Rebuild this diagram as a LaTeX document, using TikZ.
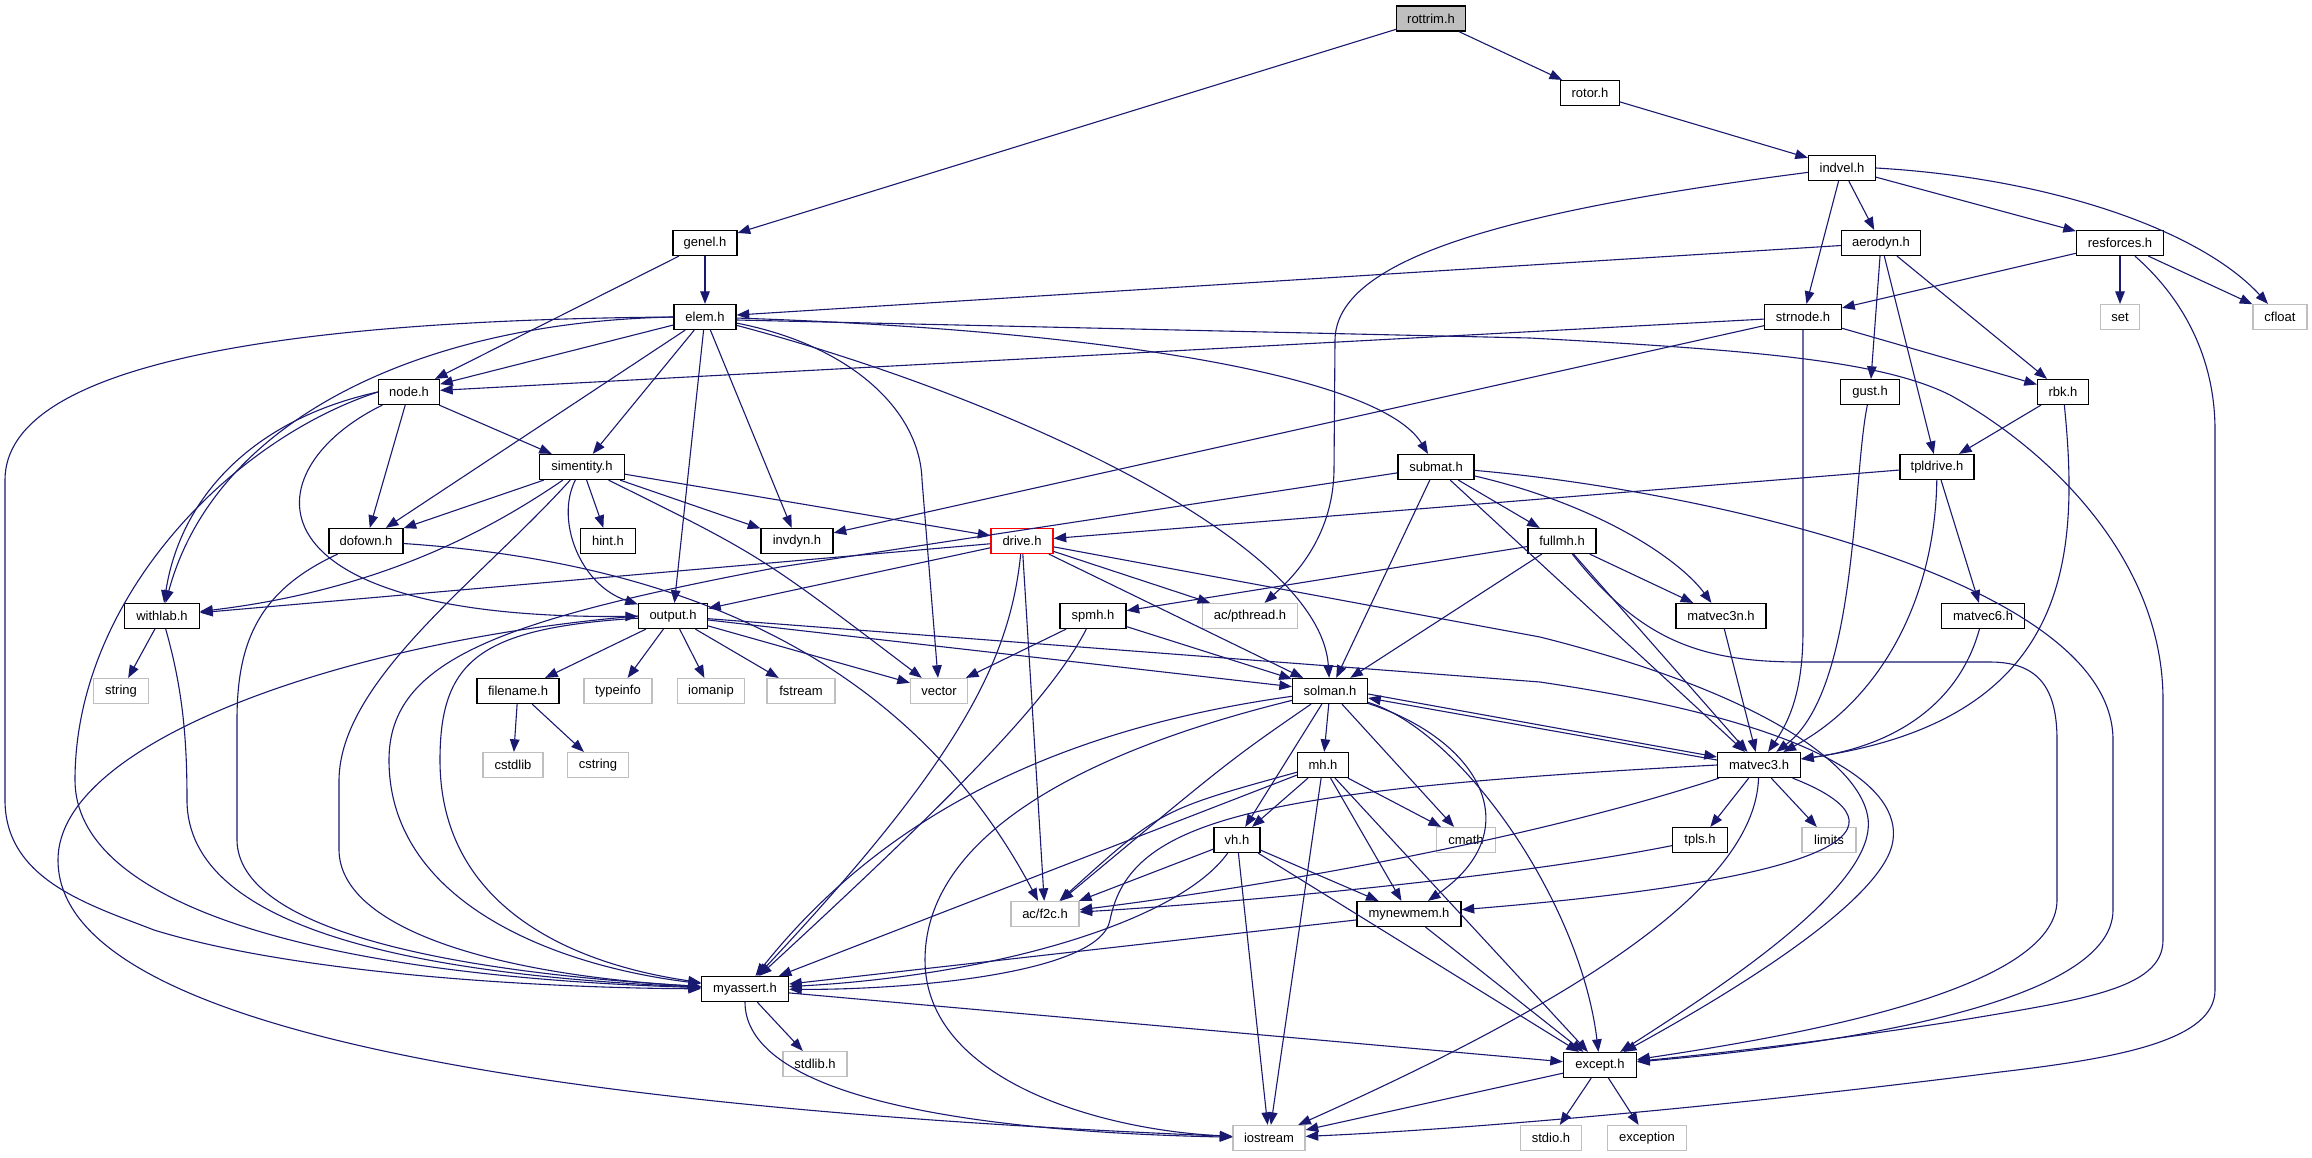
\documentclass[tikz,border=0pt]{standalone}
\usepackage{fontspec}
\setmainfont{Liberation Sans}
\usetikzlibrary{arrows.meta}
\definecolor{edgec}{HTML}{191970}
\definecolor{extc}{HTML}{BFBFBF}
\begin{document}
\begin{tikzpicture}[x=0.5pt,y=-0.5pt,
 hb/.style={draw=black, fill=white, line width=0.6pt, minimum height=12.5pt, inner sep=0pt, font=\fontsize{6.5}{7}\selectfont},
 xb/.style={hb, draw=extc},
 ed/.style={draw=edgec, line width=0.55pt, -{Triangle[length=6.3pt,width=4.8pt]}}]
\useasboundingbox[fill=white] (0,0) rectangle (2312,1157);
% nodes
\node[hb, fill=extc, minimum width=34.5pt] (rottrim) at (1431,18.5) {rottrim.h};
\node[hb, minimum width=29.5pt] (rotor) at (1590,93) {rotor.h};
\node[hb, minimum width=33.5pt] (indvel) at (1842,168) {indvel.h};
\node[hb, minimum width=32pt] (genel) at (705,243) {genel.h};
\node[hb, minimum width=39.5pt] (aerodyn) at (1881,243) {aerodyn.h};
\node[hb, minimum width=43.5pt] (resforces) at (2120,243) {resforces.h};
\node[hb, minimum width=31pt] (elem) at (705,317) {elem.h};
\node[hb, minimum width=38.5pt] (strnode) at (1803,317) {strnode.h};
\node[xb, minimum width=19.5pt] (set) at (2120,317) {set};
\node[xb, minimum width=27pt] (cfloat) at (2280,317) {cfloat};
\node[hb, minimum width=30.5pt] (node) at (409,392) {node.h};
\node[hb, minimum width=29.5pt] (gust) at (1870,392) {gust.h};
\node[hb, minimum width=25.5pt] (rbk) at (2063,392) {rbk.h};
\node[hb, minimum width=42.5pt] (simentity) at (582,467) {simentity.h};
\node[hb, minimum width=38pt] (submat) at (1436,467) {submat.h};
\node[hb, minimum width=37pt] (tpldrive) at (1937,467) {tpldrive.h};
\node[hb, minimum width=37pt] (dofown) at (366,541) {dofown.h};
\node[hb, minimum width=27.5pt] (hint) at (608,541) {hint.h};
\node[hb, minimum width=36pt] (invdyn) at (797,541) {invdyn.h};
\node[hb, draw=red, minimum width=31pt] (drive) at (1022,541) {drive.h};
\node[hb, minimum width=34pt] (fullmh) at (1562,541) {fullmh.h};
\node[hb, minimum width=37.5pt] (withlab) at (162,616) {withlab.h};
\node[hb, minimum width=34.5pt] (output) at (673,616) {output.h};
\node[hb, minimum width=33pt] (spmh) at (1093,616) {spmh.h};
\node[xb, minimum width=47.5pt] (pthread) at (1250,616) {ac/pthread.h};
\node[hb, minimum width=45pt] (matvec3n) at (1721,616) {matvec3n.h};
\node[hb, minimum width=41.5pt] (matvec6) at (1983,616) {matvec6.h};
\node[xb, minimum width=27.5pt] (string) at (121,691) {string};
\node[hb, minimum width=41pt] (filename) at (518,691) {filename.h};
\node[xb, minimum width=34pt] (typeinfo) at (618,691) {typeinfo};
\node[xb, minimum width=33.5pt] (iomanip) at (711,691) {iomanip};
\node[xb, minimum width=34pt] (fstream) at (801,691) {fstream};
\node[xb, minimum width=28.5pt] (vector) at (939,691) {vector};
\node[hb, minimum width=37.5pt] (solman) at (1330,691) {solman.h};
\node[xb, minimum width=30pt] (cstdlib) at (513,765) {cstdlib};
\node[xb, minimum width=30.5pt] (cstring) at (598,765) {cstring};
\node[hb, minimum width=25.5pt] (mh) at (1323,765) {mh.h};
\node[hb, minimum width=41.5pt] (matvec3) at (1759,765) {matvec3.h};
\node[hb, minimum width=23pt] (vh) at (1237,840) {vh.h};
\node[xb, minimum width=29.5pt] (cmath) at (1466,840) {cmath};
\node[hb, minimum width=27.5pt] (tpls) at (1700,840) {tpls.h};
\node[xb, minimum width=27pt] (limits) at (1829,840) {limits};
\node[xb, minimum width=34pt] (f2c) at (1045,914) {ac/f2c.h};
\node[hb, minimum width=52pt] (mynewmem) at (1409,914) {mynewmem.h};
\node[hb, minimum width=43.5pt] (myassert) at (745,989) {myassert.h};
\node[xb, minimum width=32pt] (stdlib) at (815,1064) {stdlib.h};
\node[hb, minimum width=36.5pt] (except) at (1600,1065) {except.h};
\node[xb, minimum width=36pt] (iostream) at (1269,1138) {iostream};
\node[xb, minimum width=30.5pt] (stdio) at (1551,1138) {stdio.h};
\node[xb, minimum width=39.5pt] (exception) at (1647,1138) {exception};
% edges
\draw[ed] (rottrim) -- (genel);
\draw[ed] (rottrim) -- (rotor);
\draw[ed] (rotor) -- (indvel);
\draw[ed] (indvel) .. controls (1500,212) and (1336,260) .. (1335,340) -- (1334,470) .. controls (1333,540) and (1290,580) .. (pthread);
\draw[ed] (indvel) -- (strnode);
\draw[ed] (indvel) -- (aerodyn);
\draw[ed] (indvel) -- (resforces);
\draw[ed] (indvel.east) .. controls (2050,178) and (2200,230) .. (cfloat);
\draw[ed] (aerodyn) -- (elem);
\draw[ed] (aerodyn) -- (gust);
\draw[ed] (aerodyn) -- (tpldrive);
\draw[ed] (aerodyn) -- (rbk);
\draw[ed] (resforces) -- (strnode);
\draw[ed] (resforces) -- (set);
\draw[ed] (resforces) -- (cfloat);
\draw[ed] (resforces) .. controls (2185,300) and (2215,360) .. (2215,430) -- (2215,990) .. controls (2215,1040) and (2120,1058) .. (2000,1072) .. controls (1700,1110) and (1450,1130) .. (iostream);
\draw[ed] (genel) -- (node);
\draw[ed] (genel) -- (elem);
\draw[ed] (elem) -- (node);
\draw[ed] (elem.west) .. controls (300,320) and (5,360) .. (5,480) -- (5,800) .. controls (5,880) and (90,905) .. (154,930) .. controls (300,975) and (550,988) .. (myassert);
\draw[ed] (elem.west) .. controls (420,322) and (215,420) .. (withlab);
\draw[ed] (elem) -- (dofown);
\draw[ed] (elem) -- (simentity);
\draw[ed] (elem) -- (output);
\draw[ed] (elem) -- (invdyn);
\draw[ed] (elem) .. controls (850,345) and (920,410) .. (922,480) -- (vector);
\draw[ed] (elem) .. controls (1000,395) and (1320,540) .. (solman);
\draw[ed] (elem) .. controls (1100,330) and (1380,375) .. (submat);
\draw[ed] ([yshift=-1.5pt]elem.east) -- (1530,338) .. controls (1750,350) and (1880,360) .. (1950,395) .. controls (2050,450) and (2163,560) .. (2163,700) -- (2163,940) .. controls (2163,990) and (2080,1000) .. (1950,1022) .. controls (1800,1045) and (1700,1055) .. (except);
\draw[ed] (strnode) -- (node);
\draw[ed] (strnode) -- (invdyn);
\draw[ed] (strnode) -- (rbk);
\draw[ed] (strnode) -- (1803,630) .. controls (1803,690) and (1790,720) .. (matvec3);
\draw[ed] (gust) .. controls (1852,480) and (1858,690) .. (matvec3);
\draw[ed] (rbk) -- (tpldrive);
\draw[ed] (rbk) .. controls (2080,560) and (2070,720) .. (matvec3);
\draw[ed] (tpldrive) -- (drive);
\draw[ed] (tpldrive) .. controls (1935,600) and (1880,700) .. (matvec3);
\draw[ed] (tpldrive) -- (matvec6);
\draw[ed] (matvec6) .. controls (1960,700) and (1900,745) .. (matvec3);
\draw[ed] (matvec3n) -- (matvec3);
\draw[ed] (node.west) .. controls (250,420) and (180,500) .. (withlab);
\draw[ed] (node.west) .. controls (230,440) and (75,600) .. (75,780) .. controls (75,900) and (300,975) .. (myassert);
\draw[ed] (node) -- (dofown);
\draw[ed] (node) .. controls (250,470) and (240,620) .. (output);
\draw[ed] (node) -- (simentity);
\draw[ed] (simentity) -- (dofown);
\draw[ed] (simentity) .. controls (490,530) and (380,590) .. (withlab);
\draw[ed] (simentity) .. controls (480,580) and (340,680) .. (339,780) -- (339,850) .. controls (340,930) and (500,975) .. (myassert);
\draw[ed] (simentity) -- (hint);
\draw[ed] (simentity) .. controls (555,520) and (580,585) .. (output);
\draw[ed] (simentity) .. controls (760,555) .. (vector);
\draw[ed] (simentity) -- (invdyn);
\draw[ed] (simentity) -- (drive);
\draw[ed] (dofown) .. controls (260,590) and (237,640) .. (237,720) -- (237,840) .. controls (238,930) and (450,972) .. (myassert);
\draw[ed] (dofown) .. controls (650,560) and (900,640) .. (f2c);
\draw[ed] (withlab) -- (string);
\draw[ed] (withlab) .. controls (183,690) and (187,740) .. (187,800) .. controls (187,930) and (420,975) .. (myassert);
\draw[ed] (output) -- (filename);
\draw[ed] (output) -- (typeinfo);
\draw[ed] (output) -- (iomanip);
\draw[ed] (output) -- (fstream);
\draw[ed] (output) -- (vector);
\draw[ed] (output) -- (solman);
\draw[ed] (output) -- (1540,682) .. controls (1830,725) and (1900,790) .. (1893,840) .. controls (1885,905) and (1700,1010) .. (except);
\draw[ed] (output) .. controls (480,628) and (440,660) .. (440,760) .. controls (440,900) and (560,962) .. (myassert);
\draw[ed] (output.west) .. controls (350,640) and (58,740) .. (58,860) .. controls (58,1040) and (600,1110) .. (iostream);
\draw[ed] (filename) -- (cstdlib);
\draw[ed] (filename) -- (cstring);
\draw[ed] (drive) -- (withlab);
\draw[ed] (drive) -- (output);
\draw[ed] (drive) .. controls (1010,660) and (960,760) .. (myassert);
\draw[ed] (drive) -- (f2c);
\draw[ed] (drive) -- (solman);
\draw[ed] (drive) -- (pthread);
\draw[ed] (drive) -- (1540,637) .. controls (1790,700) and (1875,780) .. (1868,830) .. controls (1860,900) and (1700,1000) .. (except);
\draw[ed] (spmh) -- (vector);
\draw[ed] (spmh) -- (solman);
\draw[ed] (spmh) .. controls (1050,700) and (950,800) .. (myassert);
\draw[ed] (solman) -- (mh);
\draw[ed] (solman) -- (vh);
\draw[ed] (solman) -- (cmath);
\draw[ed] (solman) .. controls (1480,740) and (1530,830) .. (mynewmem);
\draw[ed] (solman) .. controls (1460,730) and (1580,900) .. (except);
\draw[ed] ([yshift=-1.5pt]solman.east) -- ([yshift=4pt]matvec3.west);
\draw[ed] ([yshift=2.5pt]matvec3.west) -- ([yshift=-3.5pt]solman.east);
\draw[ed] (solman) .. controls (1230,760) .. (f2c);
\draw[ed] (solman) .. controls (1050,730) and (880,820) .. (myassert);
\draw[ed] (solman) .. controls (1050,760) and (925,850) .. (925,960) .. controls (925,1080) and (1100,1130) .. (iostream);
\draw[ed] (mh) -- (vh);
\draw[ed] (mh) .. controls (1160,810) .. (f2c);
\draw[ed] (mh) -- (myassert);
\draw[ed] (mh) -- (cmath);
\draw[ed] (mh) -- (mynewmem);
\draw[ed] (mh) -- (except);
\draw[ed] (mh) -- (iostream);
\draw[ed] (vh) -- (f2c);
\draw[ed] (vh) .. controls (1180,920) and (1000,975) .. (myassert);
\draw[ed] (vh) -- (mynewmem);
\draw[ed] (vh) -- (iostream);
\draw[ed] (vh) -- (except);
\draw[ed] (mynewmem) -- (myassert);
\draw[ed] (mynewmem) -- (except);
\draw[ed] (matvec3) -- (tpls);
\draw[ed] (matvec3) -- (limits);
\draw[ed] (matvec3) .. controls (1500,850) and (1200,895) .. (f2c);
\draw[ed] (matvec3) .. controls (1755,880) and (1600,990) .. (iostream);
\draw[ed] (matvec3) .. controls (1900,820) and (1885,875) .. (mynewmem);
\draw[ed] (matvec3.west) .. controls (1250,790) and (1130,820) .. (1110,920) .. controls (1100,975) and (900,990) .. (myassert);
\draw[ed] (tpls) .. controls (1500,880) and (1200,905) .. (f2c);
\draw[ed] (fullmh) -- (spmh);
\draw[ed] (fullmh) -- (solman);
\draw[ed] (fullmh) -- (matvec3n);
\draw[ed] (fullmh) -- (matvec3);
\draw[ed] (fullmh) .. controls (1640,640) and (1700,662) .. (1800,662) -- (1990,662) .. controls (2040,662) and (2057,690) .. (2057,740) -- (2057,900) .. controls (2057,990) and (1800,1035) .. (except);
\draw[ed] (submat) -- (fullmh);
\draw[ed] (submat) .. controls (1600,505) and (1680,560) .. (matvec3n);
\draw[ed] (submat) -- (matvec3);
\draw[ed] (submat) -- (solman);
\draw[ed] (submat) .. controls (1700,490) and (2113,580) .. (2113,740) -- (2113,910) .. controls (2113,1010) and (1800,1048) .. (except);
\draw[ed] (submat) -- (780,567) .. controls (500,620) and (389,660) .. (389,760) .. controls (389,900) and (550,965) .. (myassert);
\draw[ed] (myassert) -- (stdlib);
\draw[ed] (myassert) .. controls (745,1080) and (900,1130) .. (iostream);
\draw[ed] (myassert) -- (except);
\draw[ed] (except) -- (stdio);
\draw[ed] (except) -- (exception);
\draw[ed] (except) -- (iostream);
\end{tikzpicture}
\end{document}
